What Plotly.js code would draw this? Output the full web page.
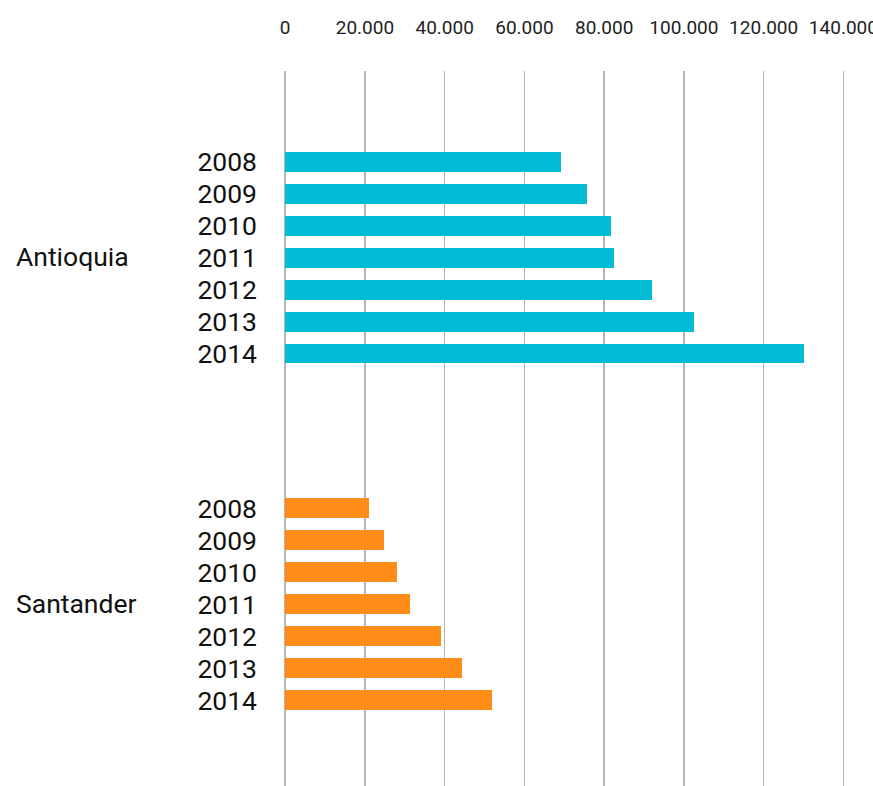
<!DOCTYPE html>
<html>
<head>
<meta charset="utf-8">
<script src="https://cdn.plot.ly/plotly-3.0.1.min.js"></script>
<style>html,body{margin:0;padding:0;background:#fff;}#chart{width:873px;height:786px;}</style>
</head>
<body>
<div id="chart"></div>
<script>
const years = ['2008','2009','2010','2011','2012','2013','2014'];
const groups = ['Antioquia','Santander'];
const antioquia = [69200, 75800, 81800, 82500, 92100, 102600, 130200];
const santander = [21000, 24800, 28100, 31300, 39100, 44400, 51900];
const xTicks = [0, 20000, 40000, 60000, 80000, 100000, 120000, 140000];

const colors = ['#00bcd4', '#ff8b17'];
const gapRows = 3.84;
const groupStep = years.length + gapRows;
const seriesList = [antioquia, santander];

const traces = seriesList.map((vals, g) => ({
  type: 'bar',
  orientation: 'h',
  x: vals,
  y: years.map((_, i) => g * groupStep + i),
  width: 0.62,
  marker: {color: colors[g]},
  hoverinfo: 'x',
  showlegend: false
}));

const tickvals = [], ticktext = [];
groups.forEach((_, g) => years.forEach((yr, i) => { tickvals.push(g * groupStep + i); ticktext.push(yr); }));

const annotations = groups.map((name, g) => ({
  text: name,
  xref: 'paper', yref: 'y',
  x: -0.4805, xanchor: 'left',
  y: g * groupStep + (years.length - 1) / 2 - 0.03, yanchor: 'middle',
  showarrow: false,
  font: {family: 'Roboto, sans-serif', size: 26.5, color: '#111'}
}));

const layout = {
  width: 873, height: 786,
  margin: {l: 284, r: 28, t: 71, b: 0, pad: 0},
  paper_bgcolor: '#fff', plot_bgcolor: '#fff',
  separators: ',.',
  showlegend: false,
  bargap: 0,
  xaxis: {
    side: 'top',
    range: [-300, 140400],
    tickvals: xTicks,
    tickformat: ',d',
    showgrid: true, gridcolor: '#b5b5b5', gridwidth: 1.5,
    zeroline: false, showline: false, ticks: '',
    ticklabelstandoff: 32,
    ticklabeloverflow: 'allow',
    tickfont: {family: 'Roboto, sans-serif', size: 19, color: '#222'},
    fixedrange: true
  },
  yaxis: {
    range: [19.52, -2.835],
    tickvals: tickvals, ticktext: ticktext,
    showgrid: false, zeroline: false, showline: false, ticks: '',
    ticklabelstandoff: 26,
    tickfont: {family: 'Roboto, sans-serif', size: 26.5, color: '#111'},
    fixedrange: true
  },
  annotations: annotations
};

Plotly.newPlot('chart', traces, layout, {displayModeBar: false, staticPlot: true});
</script>
</body>
</html>
